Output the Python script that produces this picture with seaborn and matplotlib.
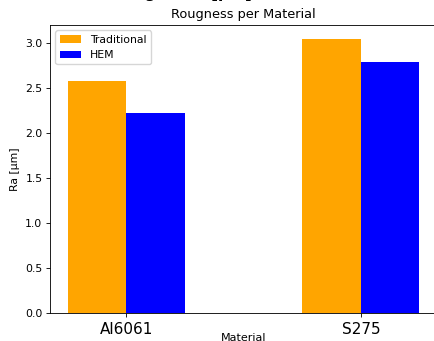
import pandas as pd
import numpy as np
import matplotlib
matplotlib.use("Agg")
import matplotlib.pyplot as plt
import seaborn as sns

materials = ["Al6061", "S275"]
traditional = [2.57, 3.04]
hem = [2.22, 2.79]
methods = ["Traditional", "HEM"]
colors = ["orange", "blue"]

df = pd.DataFrame({
    "Material": materials * 2,
    "Ra": traditional + hem,
    "Method": [methods[0]] * 2 + [methods[1]] * 2,
})

plt.rcParams["axes.linewidth"] = 0.62
plt.rcParams["xtick.major.width"] = 0.62
plt.rcParams["ytick.major.width"] = 0.62
plt.rcParams["xtick.major.size"] = 2.7
plt.rcParams["ytick.major.size"] = 2.7

fig = plt.figure(figsize=(4.34, 3.41), dpi=100)
ax = fig.add_axes([0.1152, 0.0821, 0.9, 0.8446])

sns.barplot(data=df, x="Material", y="Ra", hue="Method", palette=colors,
            width=0.5, saturation=1, ax=ax)
ax.set_xlim(-0.325, 1.34)
ax.set_ylim(0, 3.196)

ax.set_title("Rougness per Material", fontsize=9.3, pad=4.7, x=0.495)
ax.set_ylabel("Ra [μm]", fontsize=7.8)
ax.set_xlabel("Material", fontsize=8)
ax.xaxis.set_label_coords(0.495, -0.07)
ax.tick_params(axis="x", labelsize=11, pad=3.5)
ax.tick_params(axis="y", labelsize=7.8, pad=2.7)

sns.move_legend(ax, "upper left", title=None, fontsize=7.8)

# big title that sits mostly outside the crop
fig.text(0.42, 1.007, "Roughness [μm]", ha="center", va="baseline",
         fontsize=11, fontweight="bold")

fig.savefig("out.png", dpi=100)
